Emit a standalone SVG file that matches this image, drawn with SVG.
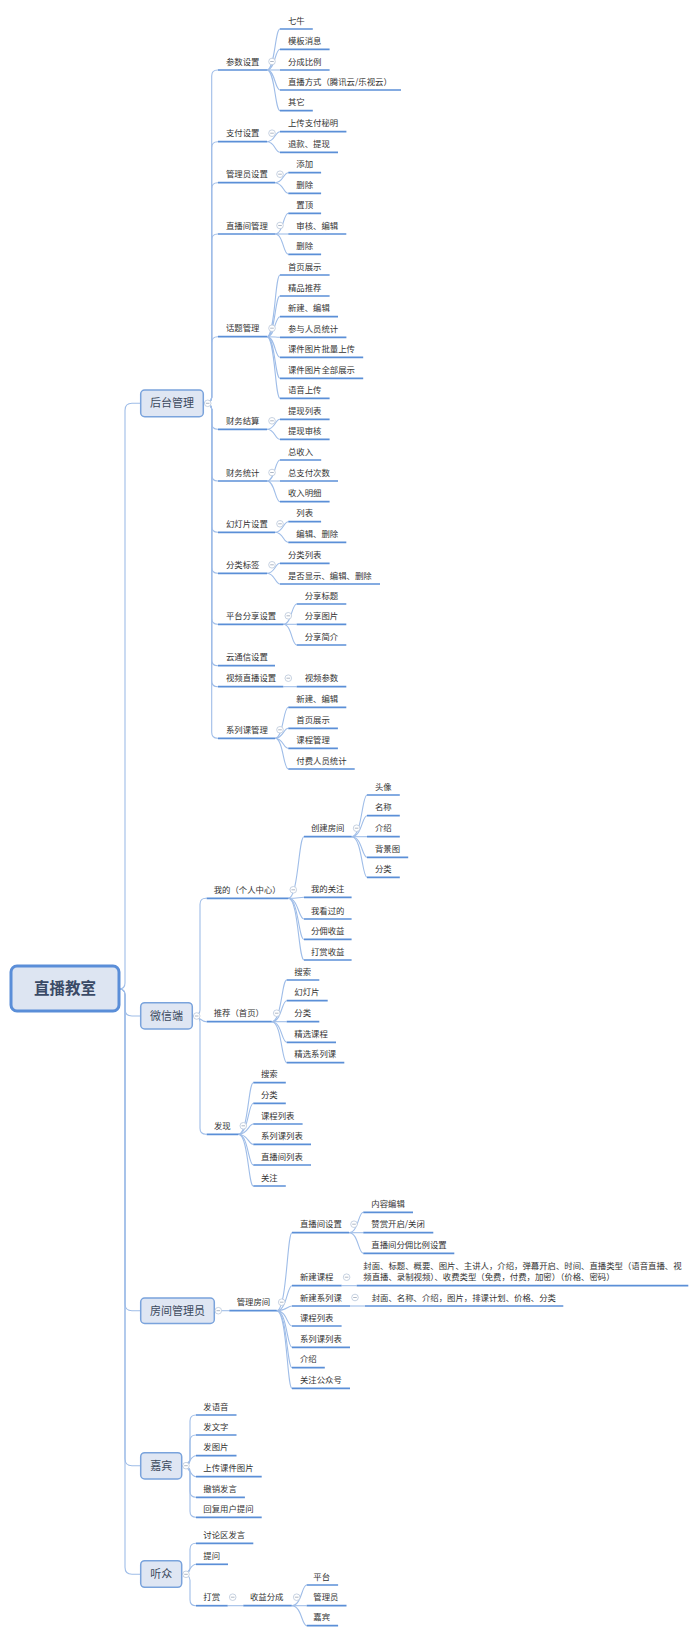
<svg xmlns="http://www.w3.org/2000/svg" xmlns:xlink="http://www.w3.org/1999/xlink" width="700" height="1637" viewBox="0 0 700 1637">
<style>
.c{fill:none;stroke:#9fbde8;stroke-width:1.1}
.u{fill:none;stroke:#5b8fd7;stroke-width:1.7}
.t{font-family:"Noto Sans CJK SC","Liberation Sans",sans-serif;font-size:8.4px;fill:#333}
.bx{fill:#dfe6f3;stroke:#7aa3dc;stroke-width:1.5}
.bt{font-family:"Noto Sans CJK SC","Liberation Sans",sans-serif;font-size:11px;fill:#3c4a5e;text-anchor:middle}
.rt{font-family:"Noto Sans CJK SC","Liberation Sans",sans-serif;font-size:15.5px;font-weight:bold;fill:#3a4a66;text-anchor:middle}
</style>
<defs>
<g id="m"><circle r="3.3" fill="#fff" stroke="#b9c6d9" stroke-width="0.8"/><path d="M-1.8 0H1.8" stroke="#9aa6b8" stroke-width="0.8"/></g>
</defs>
<rect width="700" height="1637" fill="#fff"/>
<g id="connectors">
<path class="c" d="M119 989Q125 989 125 983V410.3Q125 403.3 132 403.3H140.7"/>
<path class="c" d="M119 989Q125 989 125 995V1009Q125 1016 132 1016H140.7"/>
<path class="c" d="M119 989Q125 989 125 995V1303.7Q125 1310.7 132 1310.7H140.7"/>
<path class="c" d="M119 989Q125 989 125 995V1458.7Q125 1465.7 132 1465.7H140.7"/>
<path class="c" d="M119 989Q125 989 125 995V1567.3Q125 1574.3 132 1574.3H140.7"/>
<path class="c" d="M203.3 403.3Q211.7 403.3 211.7 397.3V76Q211.7 70 217.7 70H218"/>
<path class="c" d="M203.3 403.3Q211.7 403.3 211.7 397.3V147.7Q211.7 141.7 217.7 141.7H218"/>
<path class="c" d="M203.3 403.3Q211.7 403.3 211.7 397.3V188.7Q211.7 182.7 217.7 182.7H218"/>
<path class="c" d="M203.3 403.3Q211.7 403.3 211.7 397.3V240Q211.7 234 217.7 234H218"/>
<path class="c" d="M203.3 403.3Q211.7 403.3 211.7 397.3V342.7Q211.7 336.7 217.7 336.7H218"/>
<path class="c" d="M203.3 403.3Q211.7 403.3 211.7 409.3V423.3Q211.7 429.3 217.7 429.3H218"/>
<path class="c" d="M203.3 403.3Q211.7 403.3 211.7 409.3V475Q211.7 481 217.7 481H218"/>
<path class="c" d="M203.3 403.3Q211.7 403.3 211.7 409.3V526.3Q211.7 532.3 217.7 532.3H218"/>
<path class="c" d="M203.3 403.3Q211.7 403.3 211.7 409.3V567.3Q211.7 573.3 217.7 573.3H218"/>
<path class="c" d="M203.3 403.3Q211.7 403.3 211.7 409.3V618.3Q211.7 624.3 217.7 624.3H218"/>
<path class="c" d="M203.3 403.3Q211.7 403.3 211.7 409.3V659.7Q211.7 665.7 217.7 665.7H218"/>
<path class="c" d="M203.3 403.3Q211.7 403.3 211.7 409.3V680.7Q211.7 686.7 217.7 686.7H218"/>
<path class="c" d="M203.3 403.3Q211.7 403.3 211.7 409.3V732.3Q211.7 738.3 217.7 738.3H218"/>
<path class="c" d="M267 70C275 70 275 29 280 29"/>
<path class="c" d="M267 70C275 70 275 49.3 280 49.3"/>
<path class="c" d="M267 70H280"/>
<path class="c" d="M267 70C275 70 275 90 280 90"/>
<path class="c" d="M267 70C275 70 275 110.7 280 110.7"/>
<path class="c" d="M267 141.7C275 141.7 275 131.7 280 131.7"/>
<path class="c" d="M267 141.7C275 141.7 275 152.3 280 152.3"/>
<path class="c" d="M275 182.7C283.3 182.7 283.3 172.7 288.3 172.7"/>
<path class="c" d="M275 182.7C283.3 182.7 283.3 193.3 288.3 193.3"/>
<path class="c" d="M275 234C283.3 234 283.3 213.3 288.3 213.3"/>
<path class="c" d="M275 234H288.3"/>
<path class="c" d="M275 234C283.3 234 283.3 254.3 288.3 254.3"/>
<path class="c" d="M267 336.7C275 336.7 275 275 280 275"/>
<path class="c" d="M267 336.7C275 336.7 275 296 280 296"/>
<path class="c" d="M267 336.7C275 336.7 275 316.7 280 316.7"/>
<path class="c" d="M267 336.7C275 336.7 275 337.3 280 337.3"/>
<path class="c" d="M267 336.7C275 336.7 275 357.3 280 357.3"/>
<path class="c" d="M267 336.7C275 336.7 275 378.3 280 378.3"/>
<path class="c" d="M267 336.7C275 336.7 275 398.3 280 398.3"/>
<path class="c" d="M267 429.3C275 429.3 275 419.3 280 419.3"/>
<path class="c" d="M267 429.3C275 429.3 275 439.3 280 439.3"/>
<path class="c" d="M267 481C275 481 275 460 280 460"/>
<path class="c" d="M267 481H280"/>
<path class="c" d="M267 481C275 481 275 501.7 280 501.7"/>
<path class="c" d="M275 532.3C283.3 532.3 283.3 521.7 288.3 521.7"/>
<path class="c" d="M275 532.3C283.3 532.3 283.3 542.3 288.3 542.3"/>
<path class="c" d="M267 573.3C275 573.3 275 563.3 280 563.3"/>
<path class="c" d="M267 573.3C275 573.3 275 584 280 584"/>
<path class="c" d="M283.3 624.3C291.7 624.3 291.7 604 296.7 604"/>
<path class="c" d="M283.3 624.3H296.7"/>
<path class="c" d="M283.3 624.3C291.7 624.3 291.7 645 296.7 645"/>
<path class="c" d="M283.3 686.7H296.7"/>
<path class="c" d="M275 738.3C283.3 738.3 283.3 707.3 288.3 707.3"/>
<path class="c" d="M275 738.3C283.3 738.3 283.3 728.3 288.3 728.3"/>
<path class="c" d="M275 738.3C283.3 738.3 283.3 748.3 288.3 748.3"/>
<path class="c" d="M275 738.3C283.3 738.3 283.3 769 288.3 769"/>
<path class="c" d="M192.3 1016Q200 1016 200 1010V904.3Q200 898.3 206 898.3H206.7"/>
<path class="c" d="M192.3 1016C200 1016 200 1021.7 206.7 1021.7"/>
<path class="c" d="M192.3 1016Q200 1016 200 1022V1128.3Q200 1134.3 206 1134.3H206.7"/>
<path class="c" d="M288.3 898.3C298.5 898.3 298.5 836.7 304 836.7"/>
<path class="c" d="M288.3 898.3C298.5 898.3 298.5 897.3 304 897.3"/>
<path class="c" d="M288.3 898.3C298.5 898.3 298.5 919 304 919"/>
<path class="c" d="M288.3 898.3C298.5 898.3 298.5 939.3 304 939.3"/>
<path class="c" d="M288.3 898.3C298.5 898.3 298.5 960 304 960"/>
<path class="c" d="M351.6 836.7C362 836.7 362 795 367 795"/>
<path class="c" d="M351.6 836.7C362 836.7 362 815.7 367 815.7"/>
<path class="c" d="M351.6 836.7H367"/>
<path class="c" d="M351.6 836.7C362 836.7 362 857.3 367 857.3"/>
<path class="c" d="M351.6 836.7C362 836.7 362 877.3 367 877.3"/>
<path class="c" d="M271.7 1021.7C281.7 1021.7 281.7 980 286.7 980"/>
<path class="c" d="M271.7 1021.7C281.7 1021.7 281.7 1000.7 286.7 1000.7"/>
<path class="c" d="M271.7 1021.7H286.7"/>
<path class="c" d="M271.7 1021.7C281.7 1021.7 281.7 1042.3 286.7 1042.3"/>
<path class="c" d="M271.7 1021.7C281.7 1021.7 281.7 1062.7 286.7 1062.7"/>
<path class="c" d="M238.3 1134.3C248.3 1134.3 248.3 1082.7 253.3 1082.7"/>
<path class="c" d="M238.3 1134.3C248.3 1134.3 248.3 1103.3 253.3 1103.3"/>
<path class="c" d="M238.3 1134.3C248.3 1134.3 248.3 1124 253.3 1124"/>
<path class="c" d="M238.3 1134.3C248.3 1134.3 248.3 1144.3 253.3 1144.3"/>
<path class="c" d="M238.3 1134.3C248.3 1134.3 248.3 1165 253.3 1165"/>
<path class="c" d="M238.3 1134.3C248.3 1134.3 248.3 1186 253.3 1186"/>
<path class="c" d="M214.3 1310.7H229.3"/>
<path class="c" d="M276.7 1310.7C287 1310.7 287 1232.7 292 1232.7"/>
<path class="c" d="M276.7 1310.7C287 1310.7 287 1285.7 292 1285.7"/>
<path class="c" d="M276.7 1310.7C287 1310.7 287 1306 292 1306"/>
<path class="c" d="M276.7 1310.7C287 1310.7 287 1326 292 1326"/>
<path class="c" d="M276.7 1310.7C287 1310.7 287 1347.3 292 1347.3"/>
<path class="c" d="M276.7 1310.7C287 1310.7 287 1367.7 292 1367.7"/>
<path class="c" d="M276.7 1310.7C287 1310.7 287 1388.3 292 1388.3"/>
<path class="c" d="M349 1232.7C358.3 1232.7 358.3 1212.3 363.3 1212.3"/>
<path class="c" d="M349 1232.7H363.3"/>
<path class="c" d="M349 1232.7C358.3 1232.7 358.3 1253.3 363.3 1253.3"/>
<path class="c" d="M341.6 1285.7H356.7"/>
<path class="c" d="M350 1306H365"/>
<path class="c" d="M181.7 1465.7Q190 1465.7 190 1459.7V1421Q190 1415 196 1415"/>
<path class="c" d="M181.7 1465.7Q190 1465.7 190 1459.7V1441Q190 1435 196 1435"/>
<path class="c" d="M181.7 1465.7C190 1465.7 190 1455.7 196 1455.7"/>
<path class="c" d="M181.7 1465.7C190 1465.7 190 1476.7 196 1476.7"/>
<path class="c" d="M181.7 1465.7Q190 1465.7 190 1471.7V1491.3Q190 1497.3 196 1497.3"/>
<path class="c" d="M181.7 1465.7Q190 1465.7 190 1471.7V1511.3Q190 1517.3 196 1517.3"/>
<path class="c" d="M181.7 1574.3Q190 1574.3 190 1568.3V1549.3Q190 1543.3 196 1543.3"/>
<path class="c" d="M181.7 1574.3C190 1574.3 190 1564.3 196 1564.3"/>
<path class="c" d="M181.7 1574.3Q190 1574.3 190 1580.3V1599.7Q190 1605.7 196 1605.7"/>
<path class="c" d="M227.7 1605.7H243.3"/>
<path class="c" d="M291.7 1605.7C301.7 1605.7 301.7 1585 306.7 1585"/>
<path class="c" d="M291.7 1605.7H306.7"/>
<path class="c" d="M291.7 1605.7C301.7 1605.7 301.7 1625.7 306.7 1625.7"/>
</g>
<g id="root"><rect x="11" y="966" width="108" height="45" rx="6" fill="#dde5f2" stroke="#5a8ed8" stroke-width="3"/><text class="rt" x="65" y="994">直播教室</text></g>
<g id="houtai"><rect class="bx" x="140.7" y="390" width="62.6" height="26.7" rx="4"/><text class="bt" x="172" y="407.3">后台管理</text><use xlink:href="#m" x="207.7" y="403.3"/></g>
<g id="weixin"><rect class="bx" x="140.7" y="1002.7" width="51.6" height="26.3" rx="4"/><text class="bt" x="166.5" y="1020">微信端</text><use xlink:href="#m" x="196.7" y="1016"/></g>
<g id="fangjian"><rect class="bx" x="140.7" y="1298" width="73.6" height="25.4" rx="4"/><text class="bt" x="177.5" y="1314.7">房间管理员</text><use xlink:href="#m" x="218.3" y="1310.7"/></g>
<g id="jiabin"><rect class="bx" x="140.7" y="1452.7" width="41" height="26.3" rx="4"/><text class="bt" x="161.2" y="1469.7">嘉宾</text><use xlink:href="#m" x="186" y="1465.7"/></g>
<g id="tingzhong"><rect class="bx" x="140.7" y="1560.7" width="41" height="26.6" rx="4"/><text class="bt" x="161.2" y="1578.3">听众</text><use xlink:href="#m" x="186" y="1574.3"/></g>
<g id="a1"><path class="u" d="M218 70H267"/><text class="t" x="226" y="64.5">参数设置</text><use xlink:href="#m" x="272" y="61.5"/></g>
<g id="a1-1"><path class="u" d="M280 29H312.8"/><text class="t" x="288" y="23.5">七牛</text></g>
<g id="a1-2"><path class="u" d="M280 49.3H329.6"/><text class="t" x="288" y="43.8">模板消息</text></g>
<g id="a1-3"><path class="u" d="M280 70H329.6"/><text class="t" x="288" y="64.5">分成比例</text></g>
<g id="a1-4"><path class="u" d="M280 90H401"/><text class="t" x="288" y="84.5">直播方式（腾讯云/乐视云）</text></g>
<g id="a1-5"><path class="u" d="M280 110.7H312.8"/><text class="t" x="288" y="105.2">其它</text></g>
<g id="a2"><path class="u" d="M218 141.7H267"/><text class="t" x="226" y="136.2">支付设置</text><use xlink:href="#m" x="272" y="133.2"/></g>
<g id="a2-1"><path class="u" d="M280 131.7H346.4"/><text class="t" x="288" y="126.2">上传支付秘明</text></g>
<g id="a2-2"><path class="u" d="M280 152.3H338"/><text class="t" x="288" y="146.8">退款、提现</text></g>
<g id="a3"><path class="u" d="M218 182.7H275"/><text class="t" x="226" y="177.2">管理员设置</text><use xlink:href="#m" x="280" y="174.2"/></g>
<g id="a3-1"><path class="u" d="M288.3 172.7H321.1"/><text class="t" x="296.3" y="167.2">添加</text></g>
<g id="a3-2"><path class="u" d="M288.3 193.3H321.1"/><text class="t" x="296.3" y="187.8">删除</text></g>
<g id="a4"><path class="u" d="M218 234H275"/><text class="t" x="226" y="228.5">直播间管理</text><use xlink:href="#m" x="280" y="225.5"/></g>
<g id="a4-1"><path class="u" d="M288.3 213.3H321.1"/><text class="t" x="296.3" y="207.8">置顶</text></g>
<g id="a4-2"><path class="u" d="M288.3 234H346.3"/><text class="t" x="296.3" y="228.5">审核、编辑</text></g>
<g id="a4-3"><path class="u" d="M288.3 254.3H321.1"/><text class="t" x="296.3" y="248.8">删除</text></g>
<g id="a5"><path class="u" d="M218 336.7H267"/><text class="t" x="226" y="331.2">话题管理</text><use xlink:href="#m" x="272" y="328.2"/></g>
<g id="a5-1"><path class="u" d="M280 275H329.6"/><text class="t" x="288" y="269.5">首页展示</text></g>
<g id="a5-2"><path class="u" d="M280 296H329.6"/><text class="t" x="288" y="290.5">精品推荐</text></g>
<g id="a5-3"><path class="u" d="M280 316.7H338"/><text class="t" x="288" y="311.2">新建、编辑</text></g>
<g id="a5-4"><path class="u" d="M280 337.3H346.4"/><text class="t" x="288" y="331.8">参与人员统计</text></g>
<g id="a5-5"><path class="u" d="M280 357.3H363.2"/><text class="t" x="288" y="351.8">课件图片批量上传</text></g>
<g id="a5-6"><path class="u" d="M280 378.3H363.2"/><text class="t" x="288" y="372.8">课件图片全部展示</text></g>
<g id="a5-7"><path class="u" d="M280 398.3H329.6"/><text class="t" x="288" y="392.8">语音上传</text></g>
<g id="a6"><path class="u" d="M218 429.3H267"/><text class="t" x="226" y="423.8">财务结算</text><use xlink:href="#m" x="272" y="420.8"/></g>
<g id="a6-1"><path class="u" d="M280 419.3H329.6"/><text class="t" x="288" y="413.8">提现列表</text></g>
<g id="a6-2"><path class="u" d="M280 439.3H329.6"/><text class="t" x="288" y="433.8">提现审核</text></g>
<g id="a7"><path class="u" d="M218 481H267"/><text class="t" x="226" y="475.5">财务统计</text><use xlink:href="#m" x="272" y="472.5"/></g>
<g id="a7-1"><path class="u" d="M280 460H321.2"/><text class="t" x="288" y="454.5">总收入</text></g>
<g id="a7-2"><path class="u" d="M280 481H338"/><text class="t" x="288" y="475.5">总支付次数</text></g>
<g id="a7-3"><path class="u" d="M280 501.7H329.6"/><text class="t" x="288" y="496.2">收入明细</text></g>
<g id="a8"><path class="u" d="M218 532.3H275"/><text class="t" x="226" y="526.8">幻灯片设置</text><use xlink:href="#m" x="280" y="523.8"/></g>
<g id="a8-1"><path class="u" d="M288.3 521.7H321.1"/><text class="t" x="296.3" y="516.2">列表</text></g>
<g id="a8-2"><path class="u" d="M288.3 542.3H346.3"/><text class="t" x="296.3" y="536.8">编辑、删除</text></g>
<g id="a9"><path class="u" d="M218 573.3H267"/><text class="t" x="226" y="567.8">分类标签</text><use xlink:href="#m" x="272" y="564.8"/></g>
<g id="a9-1"><path class="u" d="M280 563.3H329.6"/><text class="t" x="288" y="557.8">分类列表</text></g>
<g id="a9-2"><path class="u" d="M280 584H380"/><text class="t" x="288" y="578.5">是否显示、编辑、删除</text></g>
<g id="a10"><path class="u" d="M218 624.3H283.3"/><text class="t" x="226" y="618.8">平台分享设置</text><use xlink:href="#m" x="288.3" y="615.8"/></g>
<g id="a10-1"><path class="u" d="M296.7 604H346.3"/><text class="t" x="304.7" y="598.5">分享标题</text></g>
<g id="a10-2"><path class="u" d="M296.7 624.3H346.3"/><text class="t" x="304.7" y="618.8">分享图片</text></g>
<g id="a10-3"><path class="u" d="M296.7 645H346.3"/><text class="t" x="304.7" y="639.5">分享简介</text></g>
<g id="a11"><path class="u" d="M218 665.7H275"/><text class="t" x="226" y="660.2">云通信设置</text></g>
<g id="a12"><path class="u" d="M218 686.7H283.3"/><text class="t" x="226" y="681.2">视频直播设置</text><use xlink:href="#m" x="288.3" y="678.2"/></g>
<g id="a12-1"><path class="u" d="M296.7 686.7H346.3"/><text class="t" x="304.7" y="681.2">视频参数</text></g>
<g id="a13"><path class="u" d="M218 738.3H275"/><text class="t" x="226" y="732.8">系列课管理</text><use xlink:href="#m" x="280" y="729.8"/></g>
<g id="a13-1"><path class="u" d="M288.3 707.3H346.3"/><text class="t" x="296.3" y="701.8">新建、编辑</text></g>
<g id="a13-2"><path class="u" d="M288.3 728.3H337.9"/><text class="t" x="296.3" y="722.8">首页展示</text></g>
<g id="a13-3"><path class="u" d="M288.3 748.3H337.9"/><text class="t" x="296.3" y="742.8">课程管理</text></g>
<g id="a13-4"><path class="u" d="M288.3 769H354.7"/><text class="t" x="296.3" y="763.5">付费人员统计</text></g>
<g id="b1"><path class="u" d="M206.7 898.3H288.3"/><text class="t" x="213.7" y="892.8">我的（个人中心）</text><use xlink:href="#m" x="293.3" y="889.8"/></g>
<g id="b1-1"><path class="u" d="M304 836.7H351.6"/><text class="t" x="311" y="831.2">创建房间</text><use xlink:href="#m" x="356.6" y="828.2"/></g>
<g id="b1-1-1"><path class="u" d="M367 795H399.8"/><text class="t" x="375" y="789.5">头像</text></g>
<g id="b1-1-2"><path class="u" d="M367 815.7H399.8"/><text class="t" x="375" y="810.2">名称</text></g>
<g id="b1-1-3"><path class="u" d="M367 836.7H399.8"/><text class="t" x="375" y="831.2">介绍</text></g>
<g id="b1-1-4"><path class="u" d="M367 857.3H408.2"/><text class="t" x="375" y="851.8">背景图</text></g>
<g id="b1-1-5"><path class="u" d="M367 877.3H399.8"/><text class="t" x="375" y="871.8">分类</text></g>
<g id="b1-2"><path class="u" d="M304 897.3H351.6"/><text class="t" x="311" y="891.8">我的关注</text></g>
<g id="b1-3"><path class="u" d="M304 919H351.6"/><text class="t" x="311" y="913.5">我看过的</text></g>
<g id="b1-4"><path class="u" d="M304 939.3H351.6"/><text class="t" x="311" y="933.8">分佣收益</text></g>
<g id="b1-5"><path class="u" d="M304 960H351.6"/><text class="t" x="311" y="954.5">打赏收益</text></g>
<g id="b2"><path class="u" d="M206.7 1021.7H271.7"/><text class="t" x="213.7" y="1016.2">推荐（首页）</text><use xlink:href="#m" x="276.7" y="1013.2"/></g>
<g id="b2-1"><path class="u" d="M286.7 980H319.3"/><text class="t" x="294.3" y="974.5">搜索</text></g>
<g id="b2-2"><path class="u" d="M286.7 1000.7H327.7"/><text class="t" x="294.3" y="995.2">幻灯片</text></g>
<g id="b2-3"><path class="u" d="M286.7 1021.7H319.3"/><text class="t" x="294.3" y="1016.2">分类</text></g>
<g id="b2-4"><path class="u" d="M286.7 1042.3H336"/><text class="t" x="294.3" y="1036.8">精选课程</text></g>
<g id="b2-5"><path class="u" d="M286.7 1062.7H344.3"/><text class="t" x="294.3" y="1057.2">精选系列课</text></g>
<g id="b3"><path class="u" d="M206.7 1134.3H238.3"/><text class="t" x="214" y="1128.8">发现</text><use xlink:href="#m" x="243.3" y="1125.8"/></g>
<g id="b3-1"><path class="u" d="M253.3 1082.7H285.8"/><text class="t" x="261" y="1077.2">搜索</text></g>
<g id="b3-2"><path class="u" d="M253.3 1103.3H285.8"/><text class="t" x="261" y="1097.8">分类</text></g>
<g id="b3-3"><path class="u" d="M253.3 1124H302.6"/><text class="t" x="261" y="1118.5">课程列表</text></g>
<g id="b3-4"><path class="u" d="M253.3 1144.3H311"/><text class="t" x="261" y="1138.8">系列课列表</text></g>
<g id="b3-5"><path class="u" d="M253.3 1165H311"/><text class="t" x="261" y="1159.5">直播间列表</text></g>
<g id="b3-6"><path class="u" d="M253.3 1186H285.8"/><text class="t" x="261" y="1180.5">关注</text></g>
<g id="c1"><path class="u" d="M229.3 1310.7H276.7"/><text class="t" x="236.7" y="1305.2">管理房间</text><use xlink:href="#m" x="281.7" y="1302.2"/></g>
<g id="c1-1"><path class="u" d="M292 1232.7H349"/><text class="t" x="300" y="1227.2">直播间设置</text><use xlink:href="#m" x="354" y="1224.2"/></g>
<g id="c1-1-1"><path class="u" d="M363.3 1212.3H413"/><text class="t" x="371.3" y="1206.8">内容编辑</text></g>
<g id="c1-1-2"><path class="u" d="M363.3 1232.7H433.3"/><text class="t" x="371.3" y="1227.2">赞赏开启/关闭</text></g>
<g id="c1-1-3"><path class="u" d="M363.3 1253.3H454.3"/><text class="t" x="371.3" y="1247.8">直播间分佣比例设置</text></g>
<g id="c1-2"><path class="u" d="M292 1285.7H341.6"/><text class="t" x="300" y="1280.2">新建课程</text><use xlink:href="#m" x="346.6" y="1277.2"/></g>
<g id="c1-2-1"><path class="u" d="M356.7 1285.7H688.3"/><text class="t" x="363.3" y="1269.2">封面、标题、概要、图片、主讲人，介绍，弹幕开启、时间、直播类型（语音直播、视</text><text class="t" x="363.3" y="1280.4">频直播、录制视频）、收费类型（免费，付费，加密）（价格、密码）</text></g>
<g id="c1-3"><path class="u" d="M292 1306H350"/><text class="t" x="300" y="1300.5">新建系列课</text><use xlink:href="#m" x="355" y="1297.5"/></g>
<g id="c1-3-1"><path class="u" d="M365 1306H563.3"/><text class="t" x="371.7" y="1300.5">封面、名称、介绍，图片，排课计划、价格、分类</text></g>
<g id="c1-4"><path class="u" d="M292 1326H341.6"/><text class="t" x="300" y="1320.5">课程列表</text></g>
<g id="c1-5"><path class="u" d="M292 1347.3H350"/><text class="t" x="300" y="1341.8">系列课列表</text></g>
<g id="c1-6"><path class="u" d="M292 1367.7H324.8"/><text class="t" x="300" y="1362.2">介绍</text></g>
<g id="c1-7"><path class="u" d="M292 1388.3H350"/><text class="t" x="300" y="1382.8">关注公众号</text></g>
<g id="d1"><path class="u" d="M196 1415H236.5"/><text class="t" x="203.3" y="1409.5">发语音</text></g>
<g id="d2"><path class="u" d="M196 1435H236.5"/><text class="t" x="203.3" y="1429.5">发文字</text></g>
<g id="d3"><path class="u" d="M196 1455.7H236.5"/><text class="t" x="203.3" y="1450.2">发图片</text></g>
<g id="d4"><path class="u" d="M196 1476.7H261.7"/><text class="t" x="203.3" y="1471.2">上传课件图片</text></g>
<g id="d5"><path class="u" d="M196 1497.3H244.9"/><text class="t" x="203.3" y="1491.8">撤销发言</text></g>
<g id="d6"><path class="u" d="M196 1517.3H261.7"/><text class="t" x="203.3" y="1511.8">回复用户提问</text></g>
<g id="e1"><path class="u" d="M196 1543.3H253.3"/><text class="t" x="203.3" y="1537.8">讨论区发言</text></g>
<g id="e2"><path class="u" d="M196 1564.3H228"/><text class="t" x="203.3" y="1558.8">提问</text></g>
<g id="e3"><path class="u" d="M196 1605.7H227.7"/><text class="t" x="203.3" y="1600.2">打赏</text><use xlink:href="#m" x="232.7" y="1597.2"/></g>
<g id="e3-1"><path class="u" d="M243.3 1605.7H291.7"/><text class="t" x="250" y="1600.2">收益分成</text><use xlink:href="#m" x="296.7" y="1597.2"/></g>
<g id="e3-1-1"><path class="u" d="M306.7 1585H338.1"/><text class="t" x="313.3" y="1579.5">平台</text></g>
<g id="e3-1-2"><path class="u" d="M306.7 1605.7H346.5"/><text class="t" x="313.3" y="1600.2">管理员</text></g>
<g id="e3-1-3"><path class="u" d="M306.7 1625.7H338.1"/><text class="t" x="313.3" y="1620.2">嘉宾</text></g>
</svg>
